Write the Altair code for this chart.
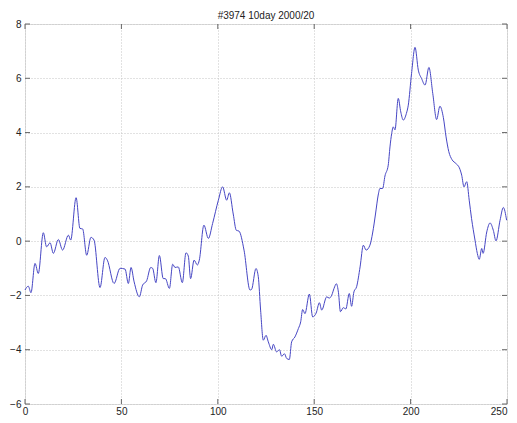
import altair as alt
import pandas as pd

title_text = "#3974 10day 2000/20"

xs = [0, 1.7, 3.1, 5.2, 6.9, 9.5, 11.2, 13.0, 14.7, 17.3, 19.5, 22.5, 23.7, 26.5, 28.5, 29.9,
      32.0, 34.2, 35.8, 38.9, 41.5, 42.7, 46.2, 49.3, 51.9, 53.6, 55.0, 56.6, 59.3, 61.0, 63.1,
      65.2, 66.2, 67.9, 69.7, 71.7, 72.8, 74.9, 76.6, 77.8, 79.5, 81.6, 83.5, 84.7, 85.9, 87.7,
      89.4, 90.4, 92.8, 95.1, 97.3, 100.3, 102.5, 104.6, 106.0, 108.0, 109.6, 111.0, 113.6,
      116.7, 117.5, 119.8, 121.0, 122.2, 123.6, 125.0, 126.2, 128.0, 128.8, 130.5, 132.0, 133.1,
      134.6, 135.7, 137.1, 138.3, 140.0, 141.8, 143.0, 144.0, 145.2, 147.5, 149.2, 151.0, 152.7,
      153.9, 156.5, 157.8, 159.1, 160.3, 161.5, 162.6, 163.6, 165.1, 166.4, 168.2, 169.4, 170.6,
      172.0, 173.8, 175.5, 176.9, 178.9, 180.3, 181.8, 183.2, 184.1, 185.5, 186.7, 188.4, 189.3,
      190.2, 191.0, 191.9, 193.6, 194.9, 196.2, 197.8, 198.8, 200.5, 202.3, 204.0, 205.7, 207.5,
      209.5, 211.5, 213.5, 215.2, 217.0, 218.4, 219.8, 221.5, 223.5, 225.3, 226.5, 227.7, 229.1,
      230.4, 231.6, 233.4, 234.6, 235.6, 236.9, 237.6, 239.5, 241.2, 242.9, 244.3, 246.4, 248.1,
      249.8]
ys = [-1.8, -1.66, -1.9, -0.82, -1.19, 0.31, -0.21, -0.06, -0.45, 0.06, -0.33, 0.22, 0.04, 1.6,
      0.47, 0.45, -0.52, 0.14, 0.04, -1.71, -0.6, -0.7, -1.56, -1.0, -1.03, -1.56, -0.97, -1.5,
      -2.05, -1.62, -1.46, -0.97, -1.0, -1.53, -0.53, -1.38, -1.38, -1.74, -0.85, -0.97, -0.95,
      -1.53, -0.43, -0.55, -1.38, -0.7, -0.88, -0.7, 0.59, 0.1, 0.65, 1.51, 2.0, 1.51, 1.78, 1.0,
      0.4, 0.37, -0.33, -1.8, -1.78, -1.01, -1.31, -2.54, -3.65, -3.47, -3.71, -4.0, -3.8, -4.08,
      -4.0, -4.24, -4.15, -4.32, -4.36, -3.71, -3.53, -3.22, -2.97, -2.52, -2.67, -1.95, -2.79,
      -2.65, -2.27, -2.54, -2.05, -2.1, -1.99, -1.74, -1.57, -1.9, -2.6, -2.45, -2.5, -1.93, -2.4,
      -1.87, -1.68, -0.95, -0.15, -0.33, -0.15, 0.3, 1.0, 1.7, 1.94, 1.94, 2.4, 2.8, 3.47, 3.97,
      4.21, 4.1, 5.26, 4.76, 4.46, 4.7, 5.01, 6.18, 7.14, 6.3, 5.99, 5.75, 6.4, 5.44, 4.48, 4.97,
      4.55, 3.84, 3.3, 3.0, 2.86, 2.7, 2.43, 2.0, 2.19, 1.51, 0.84, 0.04, -0.45, -0.67, -0.27,
      -0.45, 0.34, 0.67, 0.4, 0.01, 0.77, 1.24, 0.77]

x_ticks = [0, 50, 100, 150, 200, 250]
y_ticks = [-6, -4, -2, 0, 2, 4, 6, 8]

df = pd.DataFrame({"x": xs, "y": ys})
dfx = pd.DataFrame({"xt": x_ticks})
dfy = pd.DataFrame({"yt": y_ticks})

W, H = 482, 380
font = "Liberation Sans"

xscale = alt.Scale(domain=[0, 250], nice=False, zero=False)
yscale = alt.Scale(domain=[-6, 8], nice=False, zero=False)

xaxis = alt.Axis(values=x_ticks, grid=True, gridColor="#c4c4c4", gridDash=[1, 2], gridWidth=1,
                 ticks=False, domain=False, labelPadding=2, labelFont=font, labelFontSize=10,
                 labelColor="#222", title=None, labelFlush=False,
                 labelAlign=alt.expr("datum.value == 250 ? 'right' : 'center'"))
yaxis = alt.Axis(values=y_ticks, grid=True, gridColor="#c4c4c4", gridDash=[1, 2], gridWidth=1,
                 ticks=False, domain=False, labelPadding=4, labelFont=font, labelFontSize=10,
                 labelColor="#222", title=None, labelFlush=False)

line = alt.Chart(df).mark_line(color="#4646c4", strokeWidth=1, interpolate="monotone").encode(
    x=alt.X("x:Q", scale=xscale, axis=xaxis),
    y=alt.Y("y:Q", scale=yscale, axis=yaxis),
)

tick_col = "#666"
xt_bottom = alt.Chart(dfx).mark_rule(color=tick_col, strokeWidth=1).encode(
    x=alt.X("xt:Q", scale=xscale, axis=None), y=alt.value(H), y2=alt.value(H - 5))
xt_top = alt.Chart(dfx).mark_rule(color=tick_col, strokeWidth=1).encode(
    x=alt.X("xt:Q", scale=xscale, axis=None), y=alt.value(0), y2=alt.value(5))
yt_left = alt.Chart(dfy).mark_rule(color=tick_col, strokeWidth=1).encode(
    y=alt.Y("yt:Q", scale=yscale, axis=None), x=alt.value(0), x2=alt.value(5))
yt_right = alt.Chart(dfy).mark_rule(color=tick_col, strokeWidth=1).encode(
    y=alt.Y("yt:Q", scale=yscale, axis=None), x=alt.value(W), x2=alt.value(W - 5))

chart = alt.layer(line, xt_bottom, xt_top, yt_left, yt_right).resolve_axis(
    x="independent", y="independent"
).properties(
    width=W, height=H,
    title=alt.TitleParams(title_text, font=font, fontSize=10, fontWeight="normal",
                          color="#222", offset=3, dy=5, anchor="middle"),
    autosize=alt.AutoSizeParams(type="none"),
    padding={"left": 17, "top": 16, "right": 2, "bottom": 11},
).configure_view(stroke="#777", strokeWidth=1).configure(background="white")

chart.save("out.html", embed_options={"renderer": "svg", "actions": False})
